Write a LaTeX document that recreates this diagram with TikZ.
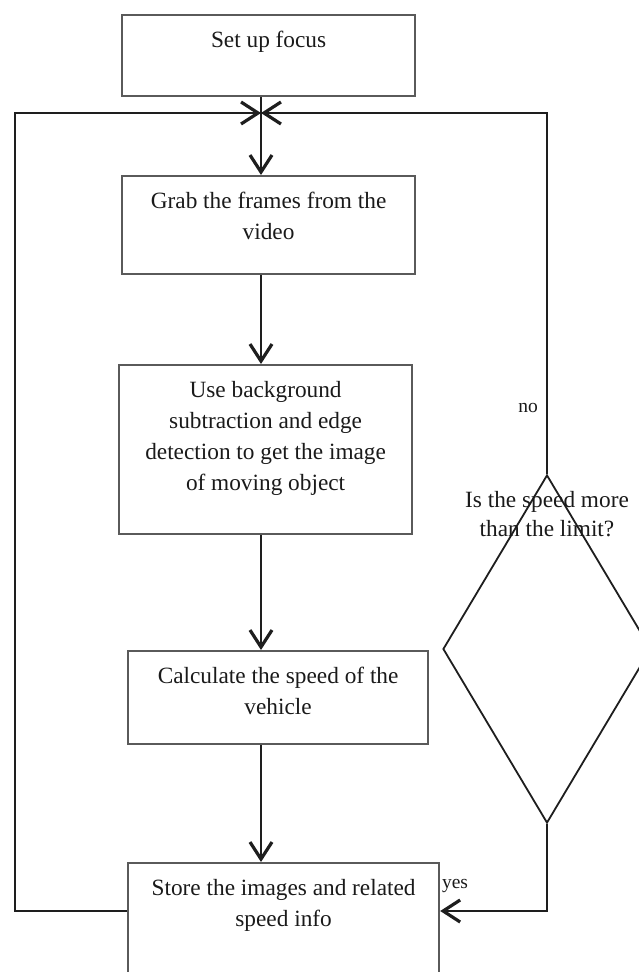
\documentclass[tikz,border=0pt]{standalone}
\usepackage{fontspec}
\setmainfont{Liberation Serif}
\usetikzlibrary{arrows.meta,shapes.geometric}
\definecolor{boxgray}{HTML}{5A5A5A}
\definecolor{linecol}{HTML}{1E1E1E}
\definecolor{txtcol}{HTML}{1A1A1A}
\newcommand\bxt[3]{\parbox[c][#1][t]{#2}{\centering\fontsize{23.3}{31}\selectfont\color{txtcol}\vspace*{11pt}\strut #3\par}}
\begin{document}
\begin{tikzpicture}[x=1pt,y=-1pt,
  box/.style={draw=boxgray, line width=2.2pt, inner sep=0pt, rectangle, anchor=north west},
  conn/.style={draw=linecol, line width=1.8pt},
  arr/.style={conn, -{Straight Barb[length=17pt,width=22pt,line width=3.2pt]}},
  lbl/.style={font=\fontsize{19.5}{22}\selectfont, text=txtcol, inner sep=0pt}
]
\useasboundingbox (0,0) rectangle (639,972);
\clip (0,0) rectangle (639,972);

\node[box] (b1) at (121,14)  {\bxt{81pt}{293pt}{Set up focus}};
\node[box] (b2) at (121,175) {\bxt{98pt}{293pt}{Grab the frames from the\\video}};
\node[box] (b3) at (118,364) {\bxt{169pt}{293pt}{Use background\\subtraction and edge\\detection to get the image\\of moving object}};
\node[box] (b4) at (127,650) {\bxt{93pt}{300pt}{Calculate the speed of the\\vehicle}};
\node[box] (b5) at (127,862) {\bxt{140pt}{311pt}{Store the images and related\\speed info}};

\node[diamond, draw=linecol, line width=1.8pt, minimum width=208pt, minimum height=348pt, inner sep=0pt] (d) at (547,649) {};
\node[font=\fontsize{23.3}{29}\selectfont, text=txtcol, align=center, inner sep=0pt] (dt) at (547,514) {Is the speed more\\than the limit?};

\coordinate (J) at (261,113);
\coordinate (LL) at (15,0);
\coordinate (RR) at (547,0);
\coordinate (Y5) at (0,911);

\draw[arr] (b1.south -| J) -- (b2.north -| J);
\draw[arr] (b2.south -| J) -- (b3.north -| J);
\draw[arr] (b3.south -| J) -- (b4.north -| J);
\draw[arr] (b4.south -| J) -- (b5.north -| J);
\draw[arr] (b5.west |- Y5) -- (LL |- Y5) -- (LL |- J) -- (J);
\draw[arr] (d.north) -- (RR |- J) -- (J);
\draw[arr] (d.south) -- (d.south |- Y5) -- (b5.east |- Y5);

\node[lbl] (no) at (528,408) {no};
\node[lbl] (yes) at (455,886) {yes};
\end{tikzpicture}
\end{document}
